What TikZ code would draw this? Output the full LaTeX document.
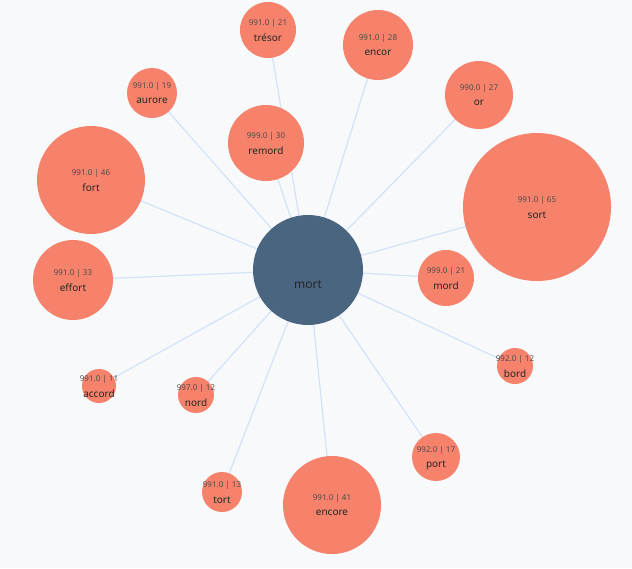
\documentclass[tikz,border=0pt]{standalone}
\usepackage{fontspec}
\setmainfont{Noto Sans}
\usetikzlibrary{positioning}

\tikzset{word/.style = {shape=circle, fill=wordfill, inner sep=0pt}}
\tikzset{hub/.style = {shape=circle, fill=hubfill, inner sep=0pt}}
\tikzset{edge/.style = {draw=edgeblue, line width=1.2pt}}
\tikzset{lbl/.style = {font=\fontsize{10}{10}\selectfont, text=black!85}}
\tikzset{num/.style = {font=\fontsize{8}{8}\selectfont, text=black!70}}
\definecolor{wordfill}{HTML}{F6826B}
\definecolor{hubfill}{HTML}{4A6580}
\definecolor{edgeblue}{HTML}{D3E2F8}
\definecolor{bg}{HTML}{F8F9FB}

\begin{document}
\begin{tikzpicture}[x=1pt,y=-1pt]
	\fill[bg] (0,0) rectangle (632,568);
	\useasboundingbox (0,0) rectangle (632,568);

	% centres
	\coordinate (mort) at (308,270);
	\foreach \n/\x/\y in {tresor/268/30, encor/378/45, or/479/95, aurore/152/93,
		remord/266/143, fort/91/180, sort/537/207, effort/73/280, mord/446/278,
		bord/515/366, accord/99/386, nord/196/395, port/436/457, tort/222/492,
		encore/332/505}
		\coordinate (\n) at (\x,\y);

	% edges
	\foreach \n in {tresor, encor, or, aurore, remord, fort, sort, effort, mord,
		bord, accord, nord, port, tort, encore}
		\draw[edge] (mort) -- (\n);

	% words
	\foreach \n/\t/\v/\r in {tresor/trésor/991.0 | 21/28, encor/encor/991.0 | 28/35,
		or/or/990.0 | 27/34, aurore/aurore/991.0 | 19/25, remord/remord/999.0 | 30/38,
		fort/fort/991.0 | 46/54, sort/sort/991.0 | 65/74, effort/effort/991.0 | 33/40,
		mord/mord/999.0 | 21/28, bord/bord/992.0 | 12/18, accord/accord/991.0 | 11/17,
		nord/nord/997.0 | 12/18, port/port/992.0 | 17/24, tort/tort/991.0 | 13/20,
		encore/encore/991.0 | 41/49}
	{
		\node[word, minimum size=2*\r] (\n-c) at (\n) {};
		\node[lbl] (\n-t) at ([yshift=-8]\n) {\t};
		\node[num] (\n-v) at ([yshift=7]\n) {\v};
	}

	\node[hub, minimum size=110] (mort-c) at (mort) {};
	\node[font=\fontsize{12}{12}\selectfont\bfseries, text=black!85] (mort-t) at ([yshift=-15]mort) {mort};
\end{tikzpicture}
\end{document}
